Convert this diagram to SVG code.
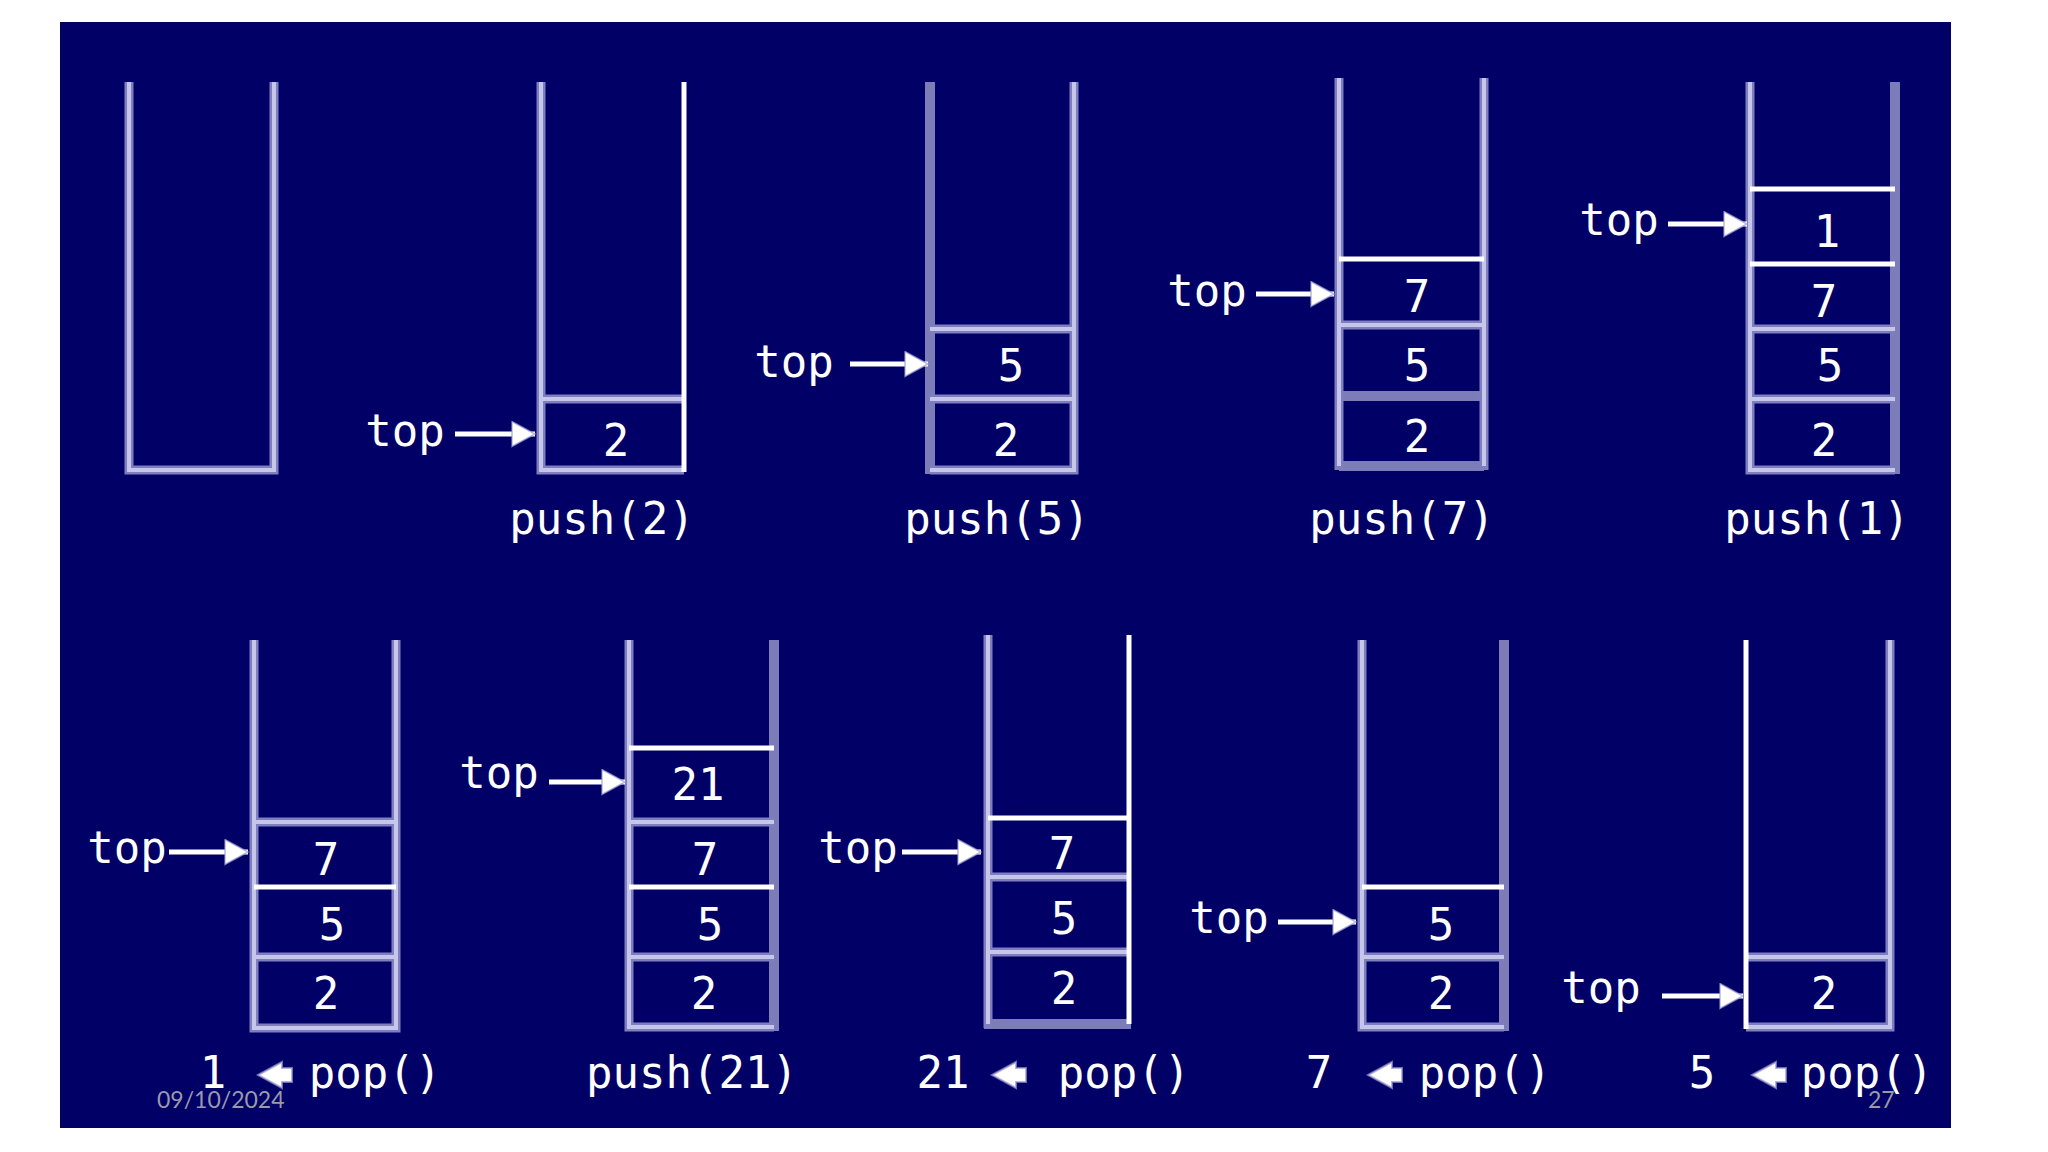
<svg xmlns="http://www.w3.org/2000/svg" width="2048" height="1152" viewBox="0 0 2048 1152">
<style>
.bg{fill:#000066}
.lo{fill:none;stroke:#7f7fbf;stroke-width:9;stroke-linejoin:miter}
.li{fill:none;stroke:#c6c6ea;stroke-width:4;stroke-linejoin:miter}
.dk{fill:none;stroke:#7c7cb8;stroke-width:10}
.wt{fill:none;stroke:#ffffff;stroke-width:5}
.px{font-family:"DejaVu Sans Mono",monospace;font-size:44px;fill:#ffffff;text-anchor:middle}
.ft{font-family:Lato,"Liberation Sans",sans-serif;font-size:23px;fill:#9a9aaa}
.ptr{stroke:#ffffff;stroke-width:5;fill:none}
.tri{fill:#ffffff;stroke:#9a9ad0;stroke-width:2;stroke-opacity:0.7}
</style>
<defs>
<marker id="ah" markerUnits="userSpaceOnUse" markerWidth="26" markerHeight="28" refX="24" refY="13.5" orient="auto">
<path d="M1,1L24,13.5L1,26Z" fill="#ffffff" stroke="#9a9ad0" stroke-width="1.5" stroke-opacity="0.7"/>
</marker>
</defs>
<rect width="2048" height="1152" fill="#ffffff"/>
<rect class="bg" x="60" y="22" width="1891" height="1106"/>

<g id="stack-empty">
<path class="lo" d="M129,82V470H274V82"/>
<path class="li" d="M129,82V470H274V82"/>
</g>

<g id="stack-push2">
<path class="lo" d="M541,82V470H684 M541,399H684"/>
<path class="li" d="M541,82V470H684 M541,399H684"/>
<path class="wt" d="M684,82V472"/>
<text class="px" x="616" y="456">2</text>
<text class="px" x="602" y="534">push(2)</text>
</g>

<g id="stack-push5">
<path class="dk" d="M930,82V474"/>
<path class="lo" d="M930,470H1074V82 M930,329H1074 M930,399H1074"/>
<path class="li" d="M930,470H1074V82 M930,329H1074 M930,399H1074"/>
<text class="px" x="1011" y="381">5</text>
<text class="px" x="1006" y="456">2</text>
<text class="px" x="997" y="534">push(5)</text>
</g>

<g id="stack-push7">
<path class="dk" d="M1339,396H1484 M1339,466H1484"/>
<path class="lo" d="M1339,78V470 M1484,78V470 M1339,325H1484"/>
<path class="li" d="M1339,78V466 M1484,78V466 M1339,325H1484"/>
<path class="wt" d="M1339,259H1484"/>
<text class="px" x="1417" y="312">7</text>
<text class="px" x="1417" y="381">5</text>
<text class="px" x="1417" y="452">2</text>
<text class="px" x="1402" y="534">push(7)</text>
</g>

<g id="stack-push1">
<path class="dk" d="M1895,82V474"/>
<path class="lo" d="M1750,82V470H1895 M1750,329H1895 M1750,399H1895"/>
<path class="li" d="M1750,82V470H1895 M1750,329H1895 M1750,399H1895"/>
<path class="wt" d="M1750,189H1895 M1750,264H1895"/>
<text class="px" x="1827" y="247">1</text>
<text class="px" x="1824" y="317">7</text>
<text class="px" x="1830" y="381">5</text>
<text class="px" x="1824" y="456">2</text>
<text class="px" x="1817" y="534">push(1)</text>
</g>

<g id="stack-pop1">
<path class="lo" d="M254,640V1028H396V640 M254,822H396 M254,957H396"/>
<path class="li" d="M254,640V1028H396V640 M254,822H396 M254,957H396"/>
<path class="wt" d="M254,887H396"/>
<text class="px" x="326" y="875">7</text>
<text class="px" x="332" y="940">5</text>
<text class="px" x="326" y="1009">2</text>
<text class="px" x="213" y="1088">1</text>
<polygon class="tri" points="258,1075 282,1062 282,1068 292,1068 292,1082 282,1082 282,1088"/>
<text class="px" x="375" y="1088">pop()</text>
</g>

<g id="stack-push21">
<path class="dk" d="M774,640V1031"/>
<path class="lo" d="M629,640V1027H774 M629,822H774 M629,957H774"/>
<path class="li" d="M629,640V1027H774 M629,822H774 M629,957H774"/>
<path class="wt" d="M629,748H774 M629,887H774"/>
<text class="px" x="698" y="800">21</text>
<text class="px" x="705" y="875">7</text>
<text class="px" x="710" y="940">5</text>
<text class="px" x="704" y="1009">2</text>
<text class="px" x="692" y="1088">push(21)</text>
</g>

<g id="stack-pop21">
<path class="dk" d="M984,1024H1131"/>
<path class="lo" d="M988,635V1028 M988,877H1129 M988,952H1129"/>
<path class="li" d="M988,635V1024 M988,877H1129 M988,952H1129"/>
<path class="wt" d="M1129,635V1024 M988,818H1129"/>
<text class="px" x="1062" y="869">7</text>
<text class="px" x="1064" y="934">5</text>
<text class="px" x="1064" y="1004">2</text>
<text class="px" x="943" y="1088">21</text>
<polygon class="tri" points="992,1075 1016,1062 1016,1068 1026,1068 1026,1082 1016,1082 1016,1088"/>
<text class="px" x="1124" y="1088">pop()</text>
</g>

<g id="stack-pop7">
<path class="dk" d="M1504,640V1031"/>
<path class="lo" d="M1362,640V1027H1504 M1362,957H1504"/>
<path class="li" d="M1362,640V1027H1504 M1362,957H1504"/>
<path class="wt" d="M1362,887H1504"/>
<text class="px" x="1441" y="940">5</text>
<text class="px" x="1441" y="1009">2</text>
<text class="px" x="1319" y="1088">7</text>
<polygon class="tri" points="1368,1075 1392,1062 1392,1068 1402,1068 1402,1082 1392,1082 1392,1088"/>
<text class="px" x="1485" y="1088">pop()</text>
</g>

<g id="stack-pop5">
<path class="lo" d="M1746,1027H1890V640 M1746,957H1890"/>
<path class="li" d="M1746,1027H1890V640 M1746,957H1890"/>
<path class="wt" d="M1746,640V1029"/>
<text class="px" x="1824" y="1009">2</text>
<text class="px" x="1702" y="1088">5</text>
<polygon class="tri" points="1752,1075 1776,1062 1776,1068 1786,1068 1786,1082 1776,1082 1776,1088"/>
<text class="px" x="1867" y="1088">pop()</text>
</g>

<g id="connectors">
<text class="px" x="405" y="446">top</text>
<line class="ptr" x1="455" y1="434" x2="535" y2="434" marker-end="url(#ah)"/>
<text class="px" x="794" y="377">top</text>
<line class="ptr" x1="850" y1="364" x2="928" y2="364" marker-end="url(#ah)"/>
<text class="px" x="1207" y="306">top</text>
<line class="ptr" x1="1256" y1="294" x2="1334" y2="294" marker-end="url(#ah)"/>
<text class="px" x="1619" y="235">top</text>
<line class="ptr" x1="1668" y1="224" x2="1747" y2="224" marker-end="url(#ah)"/>
<text class="px" x="127" y="863">top</text>
<line class="ptr" x1="169" y1="852" x2="248" y2="852" marker-end="url(#ah)"/>
<text class="px" x="499" y="788">top</text>
<line class="ptr" x1="549" y1="782" x2="625" y2="782" marker-end="url(#ah)"/>
<text class="px" x="858" y="863">top</text>
<line class="ptr" x1="902" y1="852" x2="981" y2="852" marker-end="url(#ah)"/>
<text class="px" x="1229" y="933">top</text>
<line class="ptr" x1="1278" y1="922" x2="1356" y2="922" marker-end="url(#ah)"/>
<text class="px" x="1601" y="1003">top</text>
<line class="ptr" x1="1662" y1="996" x2="1743" y2="996" marker-end="url(#ah)"/>
</g>

<g id="footer">
<text class="ft" x="157" y="1108">09/10/2024</text>
<text class="ft" x="1868" y="1108">27</text>
</g>
</svg>
